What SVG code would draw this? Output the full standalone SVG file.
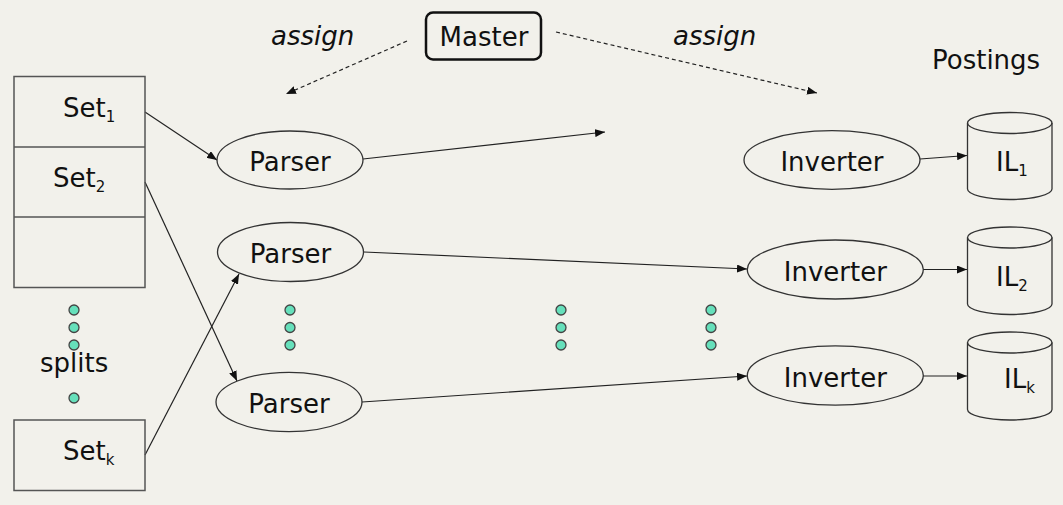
<svg xmlns="http://www.w3.org/2000/svg" width="1063" height="505" viewBox="0 0 1063 505">
<defs>
<style>
.t{font-family:"DejaVu Sans","Liberation Sans",sans-serif;font-size:26px;fill:#111}
.i{font-style:italic}
.sub{font-size:15px}
.box{fill:none;stroke:#555;stroke-width:1.5}
.el{fill:none;stroke:#333;stroke-width:1.3}
.ln{fill:none;stroke:#222;stroke-width:1.2;marker-end:url(#ah)}
.dash{stroke-dasharray:4 3}
.dot{fill:#66e0bb;stroke:#444;stroke-width:1.3}
</style>
<marker id="ah" viewBox="0 0 10 8" refX="10" refY="4" markerWidth="10" markerHeight="8" markerUnits="userSpaceOnUse" orient="auto">
<path d="M0,0 L10,4 L0,8 Z" fill="#111"/>
</marker>
</defs>
<rect width="1063" height="505" fill="#f2f1eb"/>

<g id="connectors">
<path class="ln dash" d="M407,41 L286,94"/>
<path class="ln dash" d="M556,32 L817,93"/>
<path class="ln" d="M145,112 L217,160"/>
<path class="ln" d="M145,182 L237,381"/>
<path class="ln" d="M145,455 L239,274"/>
<path class="ln" d="M363,159 L605,132"/>
<path class="ln" d="M364,252 L747,269"/>
<path class="ln" d="M362,402 L747,376"/>
<path class="ln" d="M920,159 L967,155.5"/>
<path class="ln" d="M923,269.5 L967,269.5"/>
<path class="ln" d="M923,376 L967,376"/>
</g>

<g id="master">
<rect x="426" y="12.5" width="115" height="47" rx="7" fill="none" stroke="#111" stroke-width="2.5"/>
<text class="t" x="484" y="46" text-anchor="middle">Master</text>
</g>
<g id="assign-left"><text class="t i" x="271" y="45">assign</text></g>
<g id="assign-right"><text class="t i" x="673" y="45">assign</text></g>
<g id="postings-label"><text class="t" x="932" y="69">Postings</text></g>

<g id="splits">
<rect class="box" x="14" y="76.5" width="131" height="211"/>
<line class="box" x1="14" y1="147" x2="145" y2="147"/>
<line class="box" x1="14" y1="217" x2="145" y2="217"/>
<text class="t" x="63" y="117">Set<tspan class="sub" dy="5">1</tspan></text>
<text class="t" x="53" y="187">Set<tspan class="sub" dy="5">2</tspan></text>
</g>
<g id="setk">
<rect class="box" x="14" y="420" width="131" height="70.5"/>
<text class="t" x="63" y="460">Set<tspan class="sub" dy="5">k</tspan></text>
</g>
<g id="splits-label"><text class="t" x="40" y="372">splits</text></g>

<g id="dots">
<circle class="dot" cx="74" cy="310" r="5"/>
<circle class="dot" cx="74" cy="327.5" r="5"/>
<circle class="dot" cx="74" cy="345" r="5"/>
<circle class="dot" cx="74" cy="398" r="5"/>
<circle class="dot" cx="290" cy="310" r="5"/>
<circle class="dot" cx="290" cy="327.5" r="5"/>
<circle class="dot" cx="290" cy="345" r="5"/>
<circle class="dot" cx="561" cy="310" r="5"/>
<circle class="dot" cx="561" cy="327.5" r="5"/>
<circle class="dot" cx="561" cy="345" r="5"/>
<circle class="dot" cx="711" cy="310" r="5"/>
<circle class="dot" cx="711" cy="327.5" r="5"/>
<circle class="dot" cx="711" cy="345" r="5"/>
</g>

<g id="parser1"><ellipse class="el" cx="290" cy="160" rx="73" ry="29"/><text class="t" x="290" y="171" text-anchor="middle">Parser</text></g>
<g id="parser2"><ellipse class="el" cx="290.5" cy="252" rx="73" ry="29.5"/><text class="t" x="290.5" y="263" text-anchor="middle">Parser</text></g>
<g id="parser3"><ellipse class="el" cx="289" cy="402" rx="73" ry="29.7"/><text class="t" x="289" y="413" text-anchor="middle">Parser</text></g>

<g id="inverter1"><ellipse class="el" cx="832" cy="160" rx="88" ry="29.3"/><text class="t" x="832" y="171" text-anchor="middle">Inverter</text></g>
<g id="inverter2"><ellipse class="el" cx="835.3" cy="269.5" rx="88" ry="29.5"/><text class="t" x="835.3" y="280.5" text-anchor="middle">Inverter</text></g>
<g id="inverter3"><ellipse class="el" cx="835.3" cy="375.5" rx="88" ry="29.7"/><text class="t" x="835.3" y="386.5" text-anchor="middle">Inverter</text></g>

<g id="il1">
<path class="el" d="M967.5,123 L967.5,189 A42.25,10.5 0 0 0 1052,189 L1052,123"/>
<ellipse class="el" cx="1009.75" cy="123" rx="42.25" ry="10.5"/>
<text class="t" x="996" y="171">IL<tspan class="sub" dy="5">1</tspan></text>
</g>
<g id="il2">
<path class="el" d="M967.5,237.5 L967.5,304 A42.25,10.5 0 0 0 1052,304 L1052,237.5"/>
<ellipse class="el" cx="1009.75" cy="237.5" rx="42.25" ry="10.5"/>
<text class="t" x="996" y="286">IL<tspan class="sub" dy="5">2</tspan></text>
</g>
<g id="ilk">
<path class="el" d="M967.5,342.5 L967.5,409.5 A42.25,10.5 0 0 0 1052,409.5 L1052,342.5"/>
<ellipse class="el" cx="1009.75" cy="342.5" rx="42.25" ry="10.5"/>
<text class="t" x="1004" y="388">IL<tspan class="sub" dy="5">k</tspan></text>
</g>
</svg>
